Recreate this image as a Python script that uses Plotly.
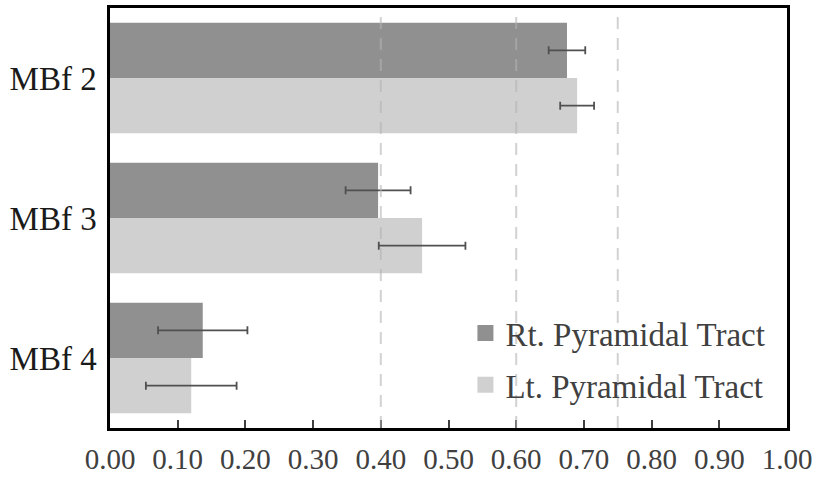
import plotly.graph_objects as go

categories = ["MBf 2", "MBf 3", "MBf 4"]
rt_values = [0.675, 0.396, 0.137]
rt_err = [0.027, 0.048, 0.066]
lt_values = [0.690, 0.461, 0.120]
lt_err = [0.025, 0.064, 0.067]
ref_lines = [0.40, 0.60, 0.75]
x_ticks = [i / 10 for i in range(11)]
x_tick_labels = ["%.2f" % v for v in x_ticks]

RT_COLOR = "#909090"
LT_COLOR = "#d0d0d0"
FONT = "Liberation Serif"

fig = go.Figure()
fig.add_trace(go.Bar(
    y=categories, x=rt_values, orientation="h", name="Rt. Pyramidal Tract",
    marker=dict(color=RT_COLOR, line=dict(width=0)),
    error_x=dict(type="data", array=rt_err, color="#505050", thickness=1.8, width=4),
    showlegend=False,
))
fig.add_trace(go.Bar(
    y=categories, x=lt_values, orientation="h", name="Lt. Pyramidal Tract",
    marker=dict(color=LT_COLOR, line=dict(width=0)),
    error_x=dict(type="data", array=lt_err, color="#505050", thickness=1.8, width=4),
    showlegend=False,
))
# legend swatches
fig.add_trace(go.Scatter(
    x=[None], y=[None], mode="markers", name="Rt. Pyramidal Tract",
    marker=dict(symbol="square", size=16, color=RT_COLOR), legend="legend",
))
fig.add_trace(go.Scatter(
    x=[None], y=[None], mode="markers", name="Lt. Pyramidal Tract",
    marker=dict(symbol="square", size=16, color=LT_COLOR), legend="legend2",
))

for v in ref_lines:
    fig.add_shape(type="line", xref="x", yref="paper", x0=v, x1=v, y0=0, y1=1,
                  line=dict(color="rgba(180,180,180,0.6)", width=2, dash="12px,9px"),
                  layer="above")

fig.update_layout(
    width=817, height=477,
    margin=dict(l=110, r=30, t=8, b=49, autoexpand=False),
    plot_bgcolor="white", paper_bgcolor="white",
    barmode="group", bargap=0.21, bargroupgap=0,
    font=dict(family=FONT, color="#404040"),
    legend=dict(x=0.525, y=0.226, xanchor="left", yanchor="middle",
                font=dict(size=33, family=FONT, color="#404040"),
                bgcolor="rgba(0,0,0,0)", borderwidth=0, itemsizing="trace"),
    legend2=dict(x=0.525, y=0.103, xanchor="left", yanchor="middle",
                 font=dict(size=33, family=FONT, color="#404040"),
                 bgcolor="rgba(0,0,0,0)", borderwidth=0, itemsizing="trace"),
)
fig.update_xaxes(
    range=[0, 1], tickvals=x_ticks, ticktext=x_tick_labels,
    ticks="inside", ticklen=8, tickwidth=1.5, tickcolor="#404040",
    showgrid=False, zeroline=False, automargin=False,
    showline=True, linecolor="black", linewidth=2.5, mirror=True,
    tickfont=dict(size=29, family=FONT, color="#404040"),
    ticklabelstandoff=3,
)
fig.update_yaxes(
    categoryorder="array", categoryarray=categories, autorange="reversed",
    ticks="", showgrid=False, zeroline=False, automargin=False,
    showline=True, linecolor="black", linewidth=2.5, mirror=True,
    tickfont=dict(size=33, family=FONT, color="#1a1a1a"),
    ticklabelstandoff=4,
)

fig.write_html("out.html")
